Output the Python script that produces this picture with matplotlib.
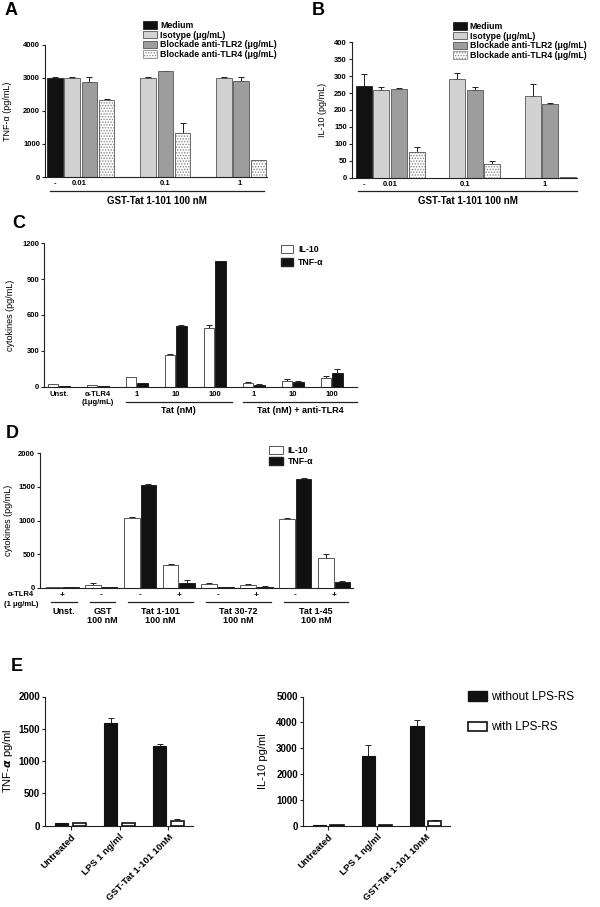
import numpy as np
import matplotlib
matplotlib.use('Agg')
import matplotlib.pyplot as plt
from matplotlib.patches import Patch

plt.rcParams['font.family'] = ['Liberation Sans', 'DejaVu Sans']
plt.rcParams['font.weight'] = 'bold'
plt.rcParams['axes.linewidth'] = 0.8
plt.rcParams['hatch.linewidth'] = 0.7

W, H = 600, 907
INK = '#222222'
EDGE = '#555555'

# ---- A / B: TLR blockade, GST-Tat 1-101 100 nM
ab_conc = ['-', '0.01', '0.1', '1']
ab_series = ['Medium', 'Isotype (μg/mL)', 'Blockade anti-TLR2 (μg/mL)', 'Blockade anti-TLR4 (μg/mL)']

a_medium, a_medium_err = [2980], [40]
a_iso, a_iso_err = [2985, 2990, 2990], [35, 40, 40]
a_tlr2, a_tlr2_err = [2860, 3190, 2900], [160, 25, 110]
a_tlr4, a_tlr4_err = [2340, 1320, 515], [25, 320, 10]

b_medium, b_medium_err = [270], [37]
b_iso, b_iso_err = [260, 291, 240], [7, 18, 38]
b_tlr2, b_tlr2_err = [263, 259, 219], [2, 9, 3]
b_tlr4, b_tlr4_err = [77, 40, 2], [15, 10, 1]

# ---- C: Tat dose response +/- anti-TLR4
c_groups = ['Unst.', 'α-TLR4\n(1μg/mL)', '1', '10', '100', '1', '10', '100']
c_il10 = [20, 12, 80, 262, 492, 32, 48, 72]
c_il10_err = [4, 2, 3, 14, 28, 8, 16, 18]
c_tnf = [5, 6, 27, 510, 1052, 16, 42, 112]
c_tnf_err = [1, 1, 2, 8, 3, 3, 5, 38]

# ---- D: Tat fragments +/- anti-TLR4
d_sign = ['+', '-', '-', '+', '-', '+', '-', '+']
d_il10 = [5, 45, 1032, 342, 50, 42, 1022, 435]
d_il10_err = [2, 22, 22, 4, 24, 16, 8, 62]
d_tnf = [3, 10, 1522, 75, 12, 15, 1612, 88]
d_tnf_err = [1, 3, 15, 33, 3, 12, 18, 10]
d_groups = [('Unst.', [0]), ('GST\n100 nM', [1]), ('Tat 1-101\n100 nM', [2, 3]),
            ('Tat 30-72\n100 nM', [4, 5]), ('Tat 1-45\n100 nM', [6, 7])]

# ---- E: LPS-RS
e_cond = ['Untreated', 'LPS 1 ng/ml', 'GST-Tat 1-101 10nM']
e_tnf_wo, e_tnf_wo_err = [42, 1595, 1240], [4, 70, 30]
e_tnf_w, e_tnf_w_err = [35, 32, 65], [4, 4, 35]
e_il10_wo, e_il10_wo_err = [20, 2710, 3840], [5, 410, 250]
e_il10_w, e_il10_w_err = [20, 20, 170], [4, 4, 60]

fig = plt.figure(figsize=(W / 100, H / 100), dpi=100)


def panel_axes(l, t, r, b, fs=5.5):
    ax = fig.add_axes([l / W, 1 - b / H, (r - l) / W, (b - t) / H])
    ax.spines[['top', 'right']].set_visible(False)
    ax.spines[['left', 'bottom']].set_color(INK)
    ax.tick_params(axis='y', length=2.5, width=0.8, pad=1, color=INK, labelsize=fs)
    ax.tick_params(axis='x', length=0, pad=2.5, labelsize=fs)
    return ax


def fy(ax, ypx):
    # figure pixel row -> axes fraction
    pos = ax.get_position()
    return (H * (1 - pos.y0) - ypx) / (H * pos.height)


def fx(ax, xpx):
    pos = ax.get_position()
    return (xpx - W * pos.x0) / (W * pos.width)


def bars(ax, x, vals, errs, width, **kw):
    ax.bar(x, vals, width, zorder=2, **kw)
    ax.errorbar(x, vals, yerr=[np.zeros(len(vals)), errs], fmt='none', ecolor=INK,
                elinewidth=0.7, capsize=2, capthick=0.7, zorder=1)


def dotted_bars(ax, x, vals, errs, width):
    ax.bar(x, vals, width, color='white', edgecolor='#8a8a8a', hatch='......', lw=0, zorder=2)
    bars(ax, x, vals, errs, width, color='none', edgecolor=EDGE, lw=0.6)


def bracket(ax, x0, x1, ypx, text=None, text_ypx=None, fs=6.5, va='center'):
    tr = ax.get_xaxis_transform()
    y = fy(ax, ypx)
    ax.plot([x0, x1], [y, y], transform=tr, color=INK, lw=0.9, clip_on=False)
    if text:
        ax.text((x0 + x1) / 2, fy(ax, text_ypx), text, transform=tr, ha='center',
                va=va, fontsize=fs, linespacing=1.0)


def letter(x, y, s):
    fig.text(x / W, 1 - y / H, s, fontsize=13, fontweight='bold', ha='left', va='top')


def ab_panel(ax, medium, medium_err, iso, iso_err, tlr2, tlr2_err, tlr4, tlr4_err,
             step, tick_pos, ylab, legend_xy):
    grp = np.arange(len(iso)) * step + 1
    bw = 0.9
    bars(ax, [0], medium, medium_err, bw, color='#111111', edgecolor=INK, lw=0.6)
    bars(ax, grp, iso, iso_err, bw, color='#d2d2d2', edgecolor=EDGE, lw=0.6)
    bars(ax, grp + 1, tlr2, tlr2_err, bw, color='#9d9d9d', edgecolor=EDGE, lw=0.6)
    dotted_bars(ax, grp + 2, tlr4, tlr4_err, bw)
    ax.set_xticks(tick_pos, ab_conc)
    ax.set_ylabel(ylab, fontsize=6.5)
    handles = [Patch(facecolor='#111111', edgecolor=INK, lw=0.6),
               Patch(facecolor='#d2d2d2', edgecolor=EDGE, lw=0.6),
               Patch(facecolor='#9d9d9d', edgecolor=EDGE, lw=0.6),
               Patch(facecolor='white', edgecolor='#8a8a8a', hatch='......', lw=0.6)]
    ax.legend(handles, ab_series, loc='upper left', bbox_to_anchor=(legend_xy[0] / W, 1 - legend_xy[1] / H),
              bbox_transform=fig.transFigure, frameon=False, fontsize=6.3, borderpad=0,
              borderaxespad=0, handlelength=1.6, handleheight=0.95, handletextpad=0.35,
              labelspacing=0.08)
    return grp


# ---------------- A
ax = panel_axes(45, 44.7, 267, 177)
grp = ab_panel(ax, a_medium, a_medium_err, a_iso, a_iso_err, a_tlr2, a_tlr2_err,
               a_tlr4, a_tlr4_err, 4.4, [0, 1.42, 6.4, 10.7], 'TNF-α (pg/mL)', (143, 21))
ax.set_ylim(0, 4000)
ax.set_yticks(range(0, 4001, 1000))
ax.set_xlim(-0.58, 12.3)
ax.yaxis.set_label_coords(fx(ax, 12), 0.5)
bracket(ax, -0.3, grp[-1] + 2.35, 191, 'GST-Tat 1-101 100 nM', 201, fs=7)
letter(5, 2, 'A')

# ---------------- B
ax = panel_axes(351.7, 42.3, 577, 177.7)
grp = ab_panel(ax, b_medium, b_medium_err, b_iso, b_iso_err, b_tlr2, b_tlr2_err,
               b_tlr4, b_tlr4_err, 4.27, [0, 1.5, 5.75, 10.2], 'IL-10 (pg/mL)', (452.7, 22))
ax.set_ylim(0, 400)
ax.set_yticks(range(0, 401, 50))
ax.set_xlim(-0.68, 12.05)
ax.yaxis.set_label_coords(fx(ax, 327), 0.5)
bracket(ax, -0.3, grp[-1] + 2.5, 191, 'GST-Tat 1-101 100 nM', 201, fs=7)
letter(312, 2, 'B')

# ---------------- C
ax = panel_axes(44.3, 243.3, 356.7, 386.7)
cstep = 3.45
cx = np.arange(len(c_groups)) * cstep
bars(ax, cx - 0.5, c_il10, c_il10_err, 0.94, color='white', edgecolor=EDGE, lw=0.7)
bars(ax, cx + 0.5, c_tnf, c_tnf_err, 0.94, color='#111111', edgecolor=INK, lw=0.7)
ax.set_ylim(0, 1200)
ax.set_yticks(range(0, 1201, 300))
ax.set_xlim(-1.27, 26.35)
ax.set_xticks(cx, c_groups)
ax.tick_params(axis='x', pad=3)
for lab in ax.get_xticklabels():
    lab.set_linespacing(1.3)
ax.set_ylabel('cytokines (pg/mL)', fontsize=6.5)
ax.yaxis.set_label_coords(fx(ax, 15), 0.5)
bracket(ax, cx[2] - 0.95, cx[4] + 1.5, 401.7, 'Tat (nM)', 410.7)
bracket(ax, cx[5] - 0.95, cx[7] + 2.2, 401.7, 'Tat (nM) + anti-TLR4', 410.7)
ax.legend([Patch(facecolor='white', edgecolor=EDGE, lw=0.7), Patch(facecolor='#111111', edgecolor=INK)],
          ['IL-10', 'TNF-α'], loc='upper left', bbox_to_anchor=(281 / W, 1 - 245 / H),
          bbox_transform=fig.transFigure, frameon=False, fontsize=6.3, borderpad=0,
          borderaxespad=0, handlelength=1.35, handleheight=0.95, handletextpad=0.6,
          labelspacing=0.45)
letter(12, 215, 'C')

# ---------------- D
ax = panel_axes(40, 453.3, 353, 587.7)
dstep = 2.33
dx = np.arange(len(d_sign)) * dstep
bars(ax, dx - 0.5, d_il10, d_il10_err, 0.94, color='white', edgecolor=EDGE, lw=0.7)
bars(ax, dx + 0.5, d_tnf, d_tnf_err, 0.94, color='#111111', edgecolor=INK, lw=0.7)
ax.set_ylim(0, 2000)
ax.set_yticks(range(0, 2001, 500))
ax.set_xlim(-1.35, dx[-1] + 1.14)
ax.set_xticks([])
ax.set_ylabel('cytokines (pg/mL)', fontsize=6.5)
ax.yaxis.set_label_coords(fx(ax, 13), 0.5)
tr = ax.get_xaxis_transform()
for x, s in zip(dx, d_sign):
    ax.text(x, fy(ax, 595), s, transform=tr, ha='center', va='center', fontsize=6)
for name, idx in d_groups:
    bracket(ax, dx[idx[0]] - 0.7, dx[idx[-1]] + 0.85, 601.7, name, 607.3, va='top')
fig.text(21 / W, 1 - 595 / H, 'α-TLR4', ha='center', va='center', fontsize=5.5)
fig.text(21 / W, 1 - 605 / H, '(1 μg/mL)', ha='center', va='center', fontsize=5.5)
ax.legend([Patch(facecolor='white', edgecolor=EDGE, lw=0.7), Patch(facecolor='#111111', edgecolor=INK)],
          ['IL-10', 'TNF-α'], loc='upper left', bbox_to_anchor=(269 / W, 1 - 446 / H),
          bbox_transform=fig.transFigure, frameon=False, fontsize=6.3, borderpad=0,
          borderaxespad=0, handlelength=1.6, handleheight=0.95, handletextpad=0.5,
          labelspacing=0.25)
letter(6, 425, 'D')

# ---------------- E
ex = np.arange(len(e_cond)) * 3.63
ebw = 0.98


def e_panel(l, r, wo, wo_err, w, w_err, ymax, ystep, ylab, lab_x):
    ax = panel_axes(l, 696.5, r, 825.5, fs=7)
    bars(ax, ex - 0.65, wo, wo_err, ebw, color='#111111', edgecolor='#111111', lw=0.8)
    bars(ax, ex + 0.65, w, w_err, ebw, color='white', edgecolor='#111111', lw=1.2)
    ax.set_ylim(0, ymax)
    ax.set_yticks(range(0, ymax + 1, ystep))
    ax.set_xlim(ex[0] - 1.9, ex[-1] + 1.8)
    ax.set_xticks(ex, e_cond, rotation=45, ha='right', va='top', rotation_mode='anchor')
    ax.tick_params(axis='x', length=3, width=0.8, color=INK, labelsize=6.8, pad=2)
    ax.set_ylabel(ylab, fontsize=8)
    ax.yaxis.set_label_coords(fx(ax, lab_x), 0.5)
    return ax


e_panel(45, 192.7, e_tnf_wo, e_tnf_wo_err, e_tnf_w, e_tnf_w_err, 2000, 500,
        r'TNF-$\alpha$ pg/ml', 15)
ax = e_panel(302.7, 450, e_il10_wo, e_il10_wo_err, e_il10_w, e_il10_w_err, 5000, 1000,
             'IL-10 pg/ml', 268)
ax.legend([Patch(facecolor='#111111', edgecolor='#111111'), Patch(facecolor='white', edgecolor='#111111', lw=1.2)],
          ['without LPS-RS', 'with LPS-RS'], loc='upper left', bbox_to_anchor=(468 / W, 1 - 691 / H),
          bbox_transform=fig.transFigure, frameon=False, prop={'size': 8.5, 'weight': 'normal'},
          borderpad=0, borderaxespad=0, handlelength=1.6, handleheight=0.85,
          handletextpad=0.35, labelspacing=1.55)
letter(11, 658, 'E')

fig.savefig('out.png', dpi=100)
